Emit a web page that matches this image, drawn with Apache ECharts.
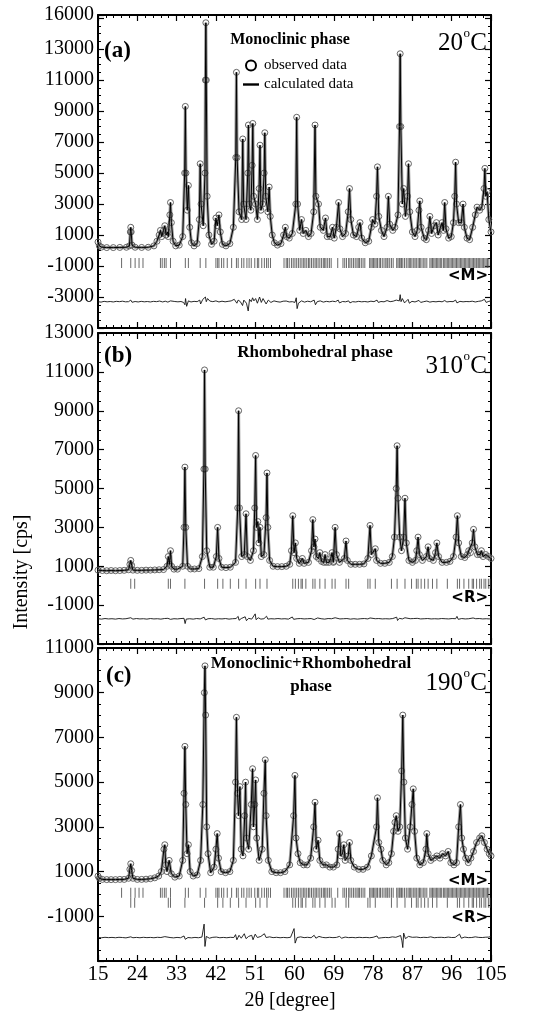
<!DOCTYPE html>
<html><head><meta charset="utf-8">
<script src="https://cdn.jsdelivr.net/npm/echarts@6/dist/echarts.min.js"></script>
<style>html,body{margin:0;padding:0;background:#fff}#c{width:536px;height:1017px}</style>
</head><body><div id="c"></div>
<script>
// ---------- data (2θ in degrees, intensity in cps) ----------
const xTicks = [15, 105, 9]; // min, max, step
const yTicksA = [-3000,-1000,1000,3000,5000,7000,9000,11000,13000];
const topLabelA = '16000';
const yTicksB = [-1000,1000,3000,5000,7000,9000,11000,13000];
const yTicksC = [-1000,1000,3000,5000,7000,9000,11000];

const profileA = [[15.0,550],[15.3,300],[15.8,220],[17,190],[18.5,190],[20,200],[21.5,210],[22.2,300],[22.4,1200],[22.5,1500],[22.6,1200],[22.8,350],[23.5,210],[25,200],[26.5,210],[27.8,300],[28.5,600],[29.0,1000],[29.3,1300],[29.6,900],[30.0,1300],[30.3,1600],[30.6,1000],[30.9,1200],[31.1,900],[31.45,2300],[31.6,3100],[31.8,1800],[32.2,600],[32.8,300],[33.6,350],[34.4,900],[34.85,5000],[35.0,9300],[35.15,5000],[35.45,2600],[35.7,4200],[36.0,1500],[36.4,500],[37.0,300],[37.7,450],[38.2,2000],[38.4,5600],[38.6,3000],[39.1,1600],[39.5,5000],[39.6,11000],[39.7,14700],[39.8,11000],[40.0,3500],[40.4,1000],[41.0,400],[41.6,600],[42.0,2100],[42.3,1600],[42.7,2300],[43.0,1200],[43.5,400],[44.3,300],[45.2,450],[46.0,1500],[46.55,6000],[46.7,11500],[46.85,6000],[47.3,2500],[47.9,2000],[48.15,7200],[48.35,3000],[48.9,2000],[49.3,5000],[49.45,8100],[49.65,3000],[50.0,2600],[50.3,5500],[50.45,8200],[50.65,3500],[51.1,3000],[51.5,2000],[51.9,4000],[52.1,6800],[52.3,2600],[52.7,3000],[53.05,5000],[53.2,7600],[53.4,3500],[53.9,2500],[54.2,4100],[54.45,2200],[54.9,1000],[55.4,500],[56.1,350],[56.9,450],[57.5,1000],[57.9,1500],[58.2,900],[58.8,800],[59.5,1100],[60.3,3000],[60.5,8600],[60.7,3000],[61.2,1300],[61.6,2000],[62.0,1100],[62.6,1300],[63.2,900],[63.8,1100],[64.4,2500],[64.7,8100],[64.9,3500],[65.5,3000],[65.9,1500],[66.6,1300],[67.1,2100],[67.5,900],[68.2,900],[68.7,1500],[69.1,800],[69.6,1500],[70.1,3100],[70.4,1400],[71.0,900],[71.7,1100],[72.3,2500],[72.6,4000],[72.9,2000],[73.5,1000],[74.2,900],[74.7,1500],[75.0,1800],[75.4,800],[76.2,500],[77.0,600],[77.6,1500],[77.9,2000],[78.4,1700],[78.8,3500],[79.0,5400],[79.3,2200],[79.9,1300],[80.5,900],[81.2,1500],[81.5,3500],[81.8,1700],[82.5,1300],[83.0,1500],[83.7,2300],[84.05,8000],[84.2,12700],[84.35,8000],[84.7,3000],[85.0,4000],[85.4,2200],[85.9,3500],[86.1,5600],[86.4,2500],[87.0,1200],[87.6,900],[88.1,1300],[88.5,2600],[88.7,3200],[89.0,1500],[89.7,800],[90.2,700],[90.7,1300],[91.0,2200],[91.4,1100],[92.0,1600],[92.5,1800],[92.9,1000],[93.3,1400],[93.8,1800],[94.1,1300],[94.4,3100],[94.7,1400],[95.3,800],[95.9,900],[96.4,1800],[96.7,3500],[96.9,5700],[97.1,3000],[97.6,1800],[98.2,1800],[98.6,3000],[98.9,1500],[99.5,800],[100.1,700],[100.8,1500],[101.4,2300],[101.8,2800],[102.4,2600],[102.9,2800],[103.4,4000],[103.6,5300],[103.8,3500],[104.1,3800],[104.5,2000],[105.0,1200]];

const diffA = [[15,-3300],[15.7,-3330],[16.4,-3280],[17.1,-3310],[17.8,-3290],[18.5,-3320],[19.2,-3280],[19.9,-3300],[20.6,-3270],[21.3,-3310],[22.0,-3300],[22.5,-3200],[22.8,-3340],[23.5,-3290],[24.2,-3320],[24.9,-3280],[25.6,-3310],[26.3,-3290],[27.0,-3320],[27.7,-3280],[28.4,-3300],[29.1,-3260],[29.8,-3320],[30.4,-3270],[31.0,-3330],[31.6,-3250],[32.0,-3360],[32.6,-3290],[33.3,-3310],[34.0,-3290],[34.6,-3350],[34.9,-3500],[35.05,-3100],[35.3,-3600],[35.7,-3250],[36.3,-3320],[37.0,-3280],[37.7,-3300],[38.3,-3200],[38.5,-3450],[39.0,-3150],[39.6,-3000],[39.8,-3300],[40.1,-3100],[40.6,-3260],[41.3,-3300],[42.0,-3250],[42.7,-3320],[43.4,-3270],[44.1,-3310],[44.8,-3280],[45.5,-3250],[46.2,-3150],[46.6,-3050],[46.8,-3400],[47.1,-3200],[47.6,-3300],[48.1,-3550],[48.4,-3200],[49.0,-3400],[49.4,-3900],[49.7,-3150],[50.1,-3300],[50.4,-3050],[50.7,-3250],[51.1,-3100],[51.5,-3400],[52.0,-3000],[52.4,-3350],[52.8,-3100],[53.2,-3000],[53.5,-3450],[54.0,-3200],[54.6,-3350],[55.3,-3250],[56.0,-3300],[56.7,-3330],[57.4,-3270],[58.1,-3260],[58.8,-3320],[59.5,-3300],[60.1,-3350],[60.4,-3050],[60.6,-3750],[60.9,-3400],[61.6,-3250],[62.3,-3330],[63.0,-3270],[63.7,-3310],[64.5,-3200],[64.8,-3500],[65.2,-3300],[65.9,-3250],[66.6,-3330],[67.3,-3280],[68.0,-3310],[68.7,-3270],[69.4,-3300],[70.0,-3200],[70.3,-3380],[71.0,-3290],[71.7,-3310],[72.4,-3250],[72.7,-3380],[73.3,-3300],[74.0,-3320],[74.7,-3280],[75.4,-3310],[76.1,-3290],[76.8,-3320],[77.5,-3270],[78.2,-3300],[78.9,-3200],[79.2,-3350],[79.8,-3290],[80.5,-3310],[81.2,-3230],[81.9,-3300],[82.6,-3270],[83.3,-3200],[84.0,-3250],[84.2,-2850],[84.4,-3300],[84.7,-3100],[85.2,-3380],[86.0,-3150],[86.3,-3400],[86.9,-3280],[87.6,-3320],[88.5,-3220],[88.9,-3350],[89.6,-3300],[90.3,-3260],[91.0,-3330],[91.7,-3290],[92.4,-3310],[93.1,-3280],[93.8,-3310],[94.4,-3230],[94.9,-3320],[95.6,-3290],[96.3,-3300],[96.9,-3200],[97.2,-3380],[97.9,-3280],[98.6,-3310],[99.3,-3290],[100.0,-3300],[100.7,-3270],[101.4,-3320],[102.1,-3280],[102.8,-3250],[103.5,-3150],[103.9,-3350],[104.5,-3280],[105,-3250]];

const profileB = [[15,800],[16,780],[17,770],[18,780],[19,770],[20,780],[21,790],[22.0,820],[22.3,1100],[22.5,1300],[22.7,1050],[23.0,800],[24,790],[25,790],[26,800],[27,800],[28,810],[29,820],[30,830],[30.8,1000],[31.1,1500],[31.35,1100],[31.6,1800],[31.85,1000],[32.4,850],[33.2,850],[34.4,1000],[34.7,3000],[34.9,6100],[35.1,3000],[35.5,1000],[36.2,860],[37.1,860],[38.1,880],[38.9,1500],[39.25,6000],[39.4,11100],[39.55,6000],[39.9,1800],[40.6,950],[41.4,950],[42.1,1500],[42.4,3000],[42.7,1400],[43.3,950],[44.3,930],[45.3,950],[46.5,1200],[47.0,4000],[47.2,9000],[47.4,4000],[47.9,1500],[48.5,1600],[48.9,3700],[49.2,1500],[49.9,1300],[50.6,1800],[50.9,4000],[51.1,6700],[51.3,3000],[51.6,3300],[51.85,2200],[52.1,3000],[52.4,1500],[53.0,1600],[53.5,3500],[53.7,5800],[53.9,3000],[54.3,1300],[55.1,1000],[56.1,980],[57.1,980],[58.1,1000],[58.9,1100],[59.3,1800],[59.6,3600],[59.9,1700],[60.2,2200],[60.5,1400],[61.1,1150],[61.5,1250],[61.8,1400],[62.2,1150],[63.2,1200],[63.9,1800],[64.2,3400],[64.45,2000],[64.7,2400],[65.0,1500],[65.5,1400],[65.8,1700],[66.2,1250],[66.7,1200],[67.0,1600],[67.3,1200],[67.9,1200],[68.3,1400],[68.6,1700],[68.9,1200],[69.0,1250],[69.3,3000],[69.6,1600],[70.3,1200],[71.4,1400],[71.8,2300],[72.1,1300],[72.9,1100],[73.9,1100],[74.9,1100],[75.9,1120],[76.8,1400],[77.3,3100],[77.6,1600],[78.5,1900],[78.8,1300],[79.7,1150],[80.7,1150],[81.7,1200],[82.4,1500],[82.9,2500],[83.3,5000],[83.5,7200],[83.7,4500],[84.1,2500],[84.5,1800],[85.0,2500],[85.3,4500],[85.6,2200],[86.2,1300],[87.0,1200],[87.7,1300],[88.0,1800],[88.3,2500],[88.6,1600],[89.3,1300],[90.2,1500],[90.6,2000],[90.9,1400],[91.8,1300],[92.3,1700],[92.6,2200],[93.0,1500],[93.8,1200],[94.8,1200],[95.6,1250],[96.4,1500],[97.0,2500],[97.3,3600],[97.6,2200],[98.2,1500],[99.0,1450],[99.6,1600],[99.9,1800],[100.3,1700],[100.7,2200],[101.0,2900],[101.3,2000],[101.9,1600],[102.5,1600],[102.8,1800],[103.2,1500],[103.8,1600],[104.4,1500],[105,1400]];

const diffB = [[15,-1700],[15.8,-1720],[16.6,-1690],[17.4,-1710],[18.2,-1700],[19.0,-1720],[19.8,-1690],[20.6,-1710],[21.4,-1700],[22.5,-1650],[23.0,-1720],[23.8,-1690],[24.6,-1710],[25.4,-1700],[26.2,-1720],[27.0,-1690],[27.8,-1710],[28.6,-1700],[29.4,-1720],[30.2,-1690],[31.0,-1680],[31.6,-1730],[32.4,-1700],[33.2,-1710],[34.0,-1690],[34.7,-1680],[34.95,-1950],[35.2,-1720],[36.0,-1700],[36.8,-1720],[37.6,-1690],[38.4,-1710],[39.3,-1620],[39.6,-1760],[40.2,-1700],[41.0,-1690],[41.8,-1720],[42.6,-1700],[43.4,-1710],[44.2,-1690],[45.0,-1720],[45.8,-1700],[46.6,-1690],[47.1,-1580],[47.3,-1780],[47.8,-1690],[48.7,-1600],[49.0,-1800],[49.5,-1680],[50.2,-1720],[51.0,-1450],[51.2,-1750],[51.7,-1650],[52.3,-1720],[53.0,-1700],[53.6,-1570],[53.9,-1720],[54.6,-1700],[55.4,-1710],[56.2,-1690],[57.0,-1710],[57.8,-1700],[58.6,-1720],[59.5,-1610],[59.8,-1730],[60.6,-1700],[61.4,-1690],[62.2,-1710],[63.0,-1700],[63.8,-1690],[64.2,-1600],[64.5,-1740],[65.3,-1660],[66.1,-1700],[66.9,-1720],[67.7,-1690],[68.5,-1700],[69.3,-1650],[69.6,-1740],[70.4,-1710],[71.2,-1700],[72.0,-1690],[72.8,-1720],[73.6,-1700],[74.4,-1720],[75.2,-1700],[76.0,-1690],[76.8,-1710],[77.3,-1660],[77.7,-1730],[78.5,-1700],[79.3,-1690],[80.1,-1710],[80.9,-1700],[81.7,-1710],[82.5,-1690],[83.4,-1620],[83.6,-1790],[84.0,-1680],[84.7,-1710],[85.3,-1650],[85.7,-1730],[86.5,-1700],[87.3,-1690],[88.1,-1680],[88.9,-1710],[89.7,-1700],[90.5,-1690],[91.3,-1710],[92.1,-1700],[92.9,-1710],[93.7,-1690],[94.5,-1700],[95.3,-1710],[96.1,-1690],[96.9,-1700],[97.2,-1580],[97.5,-1730],[98.3,-1690],[99.1,-1710],[99.9,-1700],[100.9,-1660],[101.5,-1700],[102.3,-1690],[103.1,-1710],[103.9,-1700],[104.6,-1710],[105,-1690]];

const profileC = [[15,800],[15.3,700],[16,650],[17,640],[18,640],[19,640],[20,650],[21,650],[22.0,700],[22.3,1100],[22.5,1350],[22.7,1050],[23.0,700],[24,650],[25,650],[26,660],[27,680],[28,720],[28.9,800],[29.5,1000],[30.1,2000],[30.3,2200],[30.5,1300],[30.8,1000],[31.3,1500],[31.8,900],[32.6,750],[33.6,800],[34.4,1500],[34.7,4500],[34.9,6600],[35.1,4000],[35.4,1800],[35.7,2200],[36.1,1000],[36.8,800],[37.7,850],[38.5,1500],[39.0,4000],[39.35,9000],[39.5,10200],[39.65,8000],[39.9,3000],[40.2,1800],[40.8,950],[41.6,1200],[42.0,2000],[42.3,2700],[42.6,1600],[43.2,1000],[44.2,950],[45.2,1000],[46.0,1500],[46.5,5000],[46.7,7900],[46.95,4500],[47.2,3500],[47.5,4800],[47.8,2000],[48.2,1700],[48.6,3500],[48.8,5000],[49.0,2500],[49.5,2000],[50.1,4000],[50.4,5600],[50.6,3000],[50.9,4000],[51.1,5100],[51.35,2500],[51.9,1500],[52.6,2000],[53.0,4500],[53.3,6000],[53.5,3500],[54.0,1500],[54.8,1000],[55.8,950],[56.8,950],[57.8,1000],[58.9,1300],[59.8,3500],[60.1,5300],[60.35,2500],[60.8,1800],[61.3,1400],[62.1,1300],[62.9,1300],[63.7,1600],[64.4,3000],[64.7,4100],[65.0,2000],[65.4,2400],[65.8,1500],[66.5,1300],[67.3,1300],[68.1,1200],[68.9,1200],[69.7,1300],[70.0,2000],[70.3,2700],[70.6,1700],[71.0,1800],[71.3,2200],[71.6,1500],[72.3,1700],[72.6,2300],[72.9,1500],[73.7,1200],[74.7,1100],[75.7,1100],[76.7,1200],[77.6,1700],[78.8,3000],[79.0,4300],[79.3,2300],[79.8,2000],[80.2,1500],[81.0,1300],[81.6,1400],[82.2,1800],[82.7,2800],[83.0,3200],[83.3,3500],[83.7,2800],[84.1,3000],[84.55,5500],[84.8,8000],[85.05,5000],[85.4,2500],[85.9,2000],[86.5,3000],[86.9,4000],[87.2,4700],[87.5,2800],[88.0,1600],[88.7,1300],[89.5,1400],[90.1,2000],[90.3,2700],[90.6,1800],[91.2,1500],[91.9,1600],[92.6,1700],[93.3,1600],[93.9,1800],[94.6,1700],[95.2,1900],[95.8,1400],[96.5,1300],[97.1,1400],[97.6,3000],[98.0,4000],[98.3,2500],[98.7,2000],[99.2,1600],[99.8,1400],[100.4,1600],[101.0,1900],[101.7,2300],[102.4,2500],[102.9,2600],[103.5,2300],[104.1,2000],[104.6,1800],[105,1700]];

const diffC = [[15,-1950],[15.8,-1960],[16.6,-1940],[17.4,-1955],[18.2,-1945],[19.0,-1960],[19.8,-1940],[20.6,-1950],[21.4,-1965],[22.5,-1920],[23.0,-1960],[23.8,-1945],[24.6,-1960],[25.4,-1940],[26.2,-1955],[27.0,-1945],[27.8,-1960],[28.6,-1940],[29.4,-1950],[30.3,-1910],[30.7,-1990],[31.5,-1950],[32.3,-1965],[33.1,-1945],[33.9,-1960],[34.7,-1880],[35.0,-2030],[35.6,-1950],[36.4,-1965],[37.2,-1945],[38.0,-1960],[38.8,-1930],[39.3,-1350],[39.5,-2350],[39.8,-1900],[40.5,-1980],[41.3,-1940],[42.1,-1930],[42.9,-1960],[43.7,-1945],[44.5,-1960],[45.3,-1940],[46.1,-1950],[46.5,-1820],[46.8,-2050],[47.3,-1850],[47.8,-1980],[48.5,-1780],[48.9,-2000],[49.5,-1900],[50.2,-1850],[50.5,-2050],[51.0,-1800],[51.5,-1950],[52.3,-1900],[53.1,-1780],[53.5,-1950],[54.3,-1920],[55.1,-1955],[55.9,-1940],[56.7,-1960],[57.5,-1945],[58.3,-1960],[59.1,-1940],[59.9,-1550],[60.15,-2200],[60.6,-1950],[61.4,-1920],[62.2,-1955],[63.0,-1940],[63.8,-1960],[64.5,-1850],[64.9,-1980],[65.6,-1900],[66.4,-1945],[67.2,-1960],[68.0,-1940],[68.8,-1955],[69.6,-1945],[70.3,-1900],[70.8,-1980],[71.6,-1930],[72.4,-1955],[73.2,-1945],[74.0,-1960],[74.8,-1940],[75.6,-1955],[76.4,-1945],[77.2,-1960],[78.0,-1940],[78.9,-1880],[79.2,-1980],[80.0,-1960],[80.8,-1945],[81.6,-1955],[82.4,-1920],[83.2,-1940],[84.3,-1860],[84.6,-2100],[84.8,-2400],[85.0,-1750],[85.4,-2000],[86.1,-1900],[87.0,-1940],[87.3,-1980],[88.0,-1930],[88.8,-1955],[89.6,-1940],[90.4,-1950],[91.2,-1920],[92.0,-1960],[92.8,-1945],[93.6,-1940],[94.4,-1955],[95.2,-1930],[96.0,-1950],[96.8,-1945],[97.8,-1800],[98.2,-1980],[99.0,-1930],[99.8,-1955],[100.6,-1950],[101.4,-1920],[102.2,-1945],[103.0,-1950],[103.8,-1935],[104.5,-1930],[105,-1900]];

const monoclinicRefl = [20.4,22.5,23.5,24.4,25.3,29.3,29.7,30.2,30.6,31.6,35.0,35.7,38.4,39.7,42.0,42.4,42.7,43.3,43.8,44.6,45.6,46.7,47.1,47.9,48.4,49.1,49.6,50.1,50.9,51.5,51.8,52.5,53.1,53.6,54.0,54.5,57.6,58.1,58.4,58.8,59.3,59.7,60.1,60.5,60.9,61.3,61.7,62.1,62.4,62.8,63.2,63.5,63.9,64.3,64.7,65.0,65.4,65.8,66.2,66.6,66.9,67.2,67.6,68.0,68.4,69.9,71.1,71.5,71.9,72.4,72.7,73.1,73.5,73.9,74.3,74.6,74.9,75.3,75.7,76.1,77.2,77.5,77.8,78.1,78.4,78.7,79.0,79.4,79.7,80.1,80.5,80.9,81.2,81.4,81.8,82.2,82.6,83.4,83.7,84.0,84.2,84.5,84.8,85.2,85.6,86.0,86.3,86.6,86.9,87.3,87.6,87.9,88.3,88.6,88.8,89.2,89.6,89.9,90.3,91.0,91.3,91.6,91.9,92.2,92.5,92.8,93.1,93.4,93.7,94.1,94.4,94.7,95.0,95.3,95.6,95.9,96.2,96.5,96.8,97.1,97.4,97.7,98.0,98.3,98.6,98.9,99.2,99.5,99.8,100.1,100.4,100.7,101.0,101.3,101.6,101.8,102.1,102.4,102.7,103.0,103.3,103.6,103.9,104.2,104.5];
const rhombohedralRefl = [22.5,23.4,31.1,31.6,34.9,39.4,42.4,43.6,45.3,47.2,48.9,51.1,52.1,53.7,59.6,60.2,60.9,61.5,61.8,62.6,64.2,64.7,65.8,67.0,68.6,69.3,71.8,72.4,76.8,77.3,78.5,82.2,83.5,85.3,86.8,87.9,88.3,89.0,89.8,90.6,91.6,92.6,95.0,97.3,97.8,98.8,99.9,100.7,101.0,101.7,102.4,102.8,103.4,103.8,104.4,104.8];
// intensity level of each reflection-marker row
const reflRowA = -800, reflRowB = 100, reflRowCM = 50, reflRowCR = -400;

// ---------- layout ----------
const SERIF = "'Liberation Serif','DejaVu Serif',serif";
const panels = [
  {top:15,  height:313, min:-5000, max:15200, ticks:yTicksA, topLabel:topLabelA, profile:profileA, diff:diffA, rows:[[monoclinicRefl,reflRowA]]},
  {top:333, height:311, min:-3000, max:13000, ticks:yTicksB, topLabel:null, profile:profileB, diff:diffB, rows:[[rhombohedralRefl,reflRowB]]},
  {top:648, height:313, min:-3000, max:11000, ticks:yTicksC, topLabel:null, profile:profileC, diff:diffC, rows:[[monoclinicRefl,reflRowCM],[rhombohedralRefl,reflRowCR]]}
];

const grid=[], xAxis=[], yAxis=[], series=[];
panels.forEach((p,i)=>{
  grid.push({left:98, right:45, top:p.top, height:p.height, containLabel:false});
  ['bottom','top'].forEach(pos=>{
    const lab = (i===2 && pos==='bottom');
    xAxis.push({type:'value', gridIndex:i, position:pos, min:xTicks[0], max:xTicks[1], interval:xTicks[2],
      axisLine:{show:true,onZero:false,lineStyle:{color:'#000',width:2}},
      axisTick:{show:true,inside:true,length:6,lineStyle:{color:'#000',width:1.2}},
      minorTick:{show:true,splitNumber:5,length:3,lineStyle:{color:'#000',width:1}},
      axisLabel:{show:lab,fontFamily:SERIF,fontSize:21,color:'#000',margin:3},
      splitLine:{show:false}, minorSplitLine:{show:false}});
  });
  ['left','right'].forEach(pos=>{
    yAxis.push({type:'value', gridIndex:i, position:pos, min:p.min, max:p.max, interval:2000,
      axisLine:{show:true,onZero:false,lineStyle:{color:'#000',width:2}},
      axisTick:{show:true,inside:true,length:6,lineStyle:{color:'#000',width:1.2}},
      minorTick:{show:true,splitNumber:4,length:3,lineStyle:{color:'#000',width:1}},
      axisLabel:{show:pos==='left',fontFamily:SERIF,fontSize:20,color:'#000',margin:4,
        showMinLabel:false, showMaxLabel:true,
        formatter:(v)=>{ if(p.ticks.indexOf(v)>=0) return String(v); if(v===p.max && p.topLabel) return p.topLabel; return ''; }},
      splitLine:{show:false}, minorSplitLine:{show:false}});
  });
  const xi=2*i, yi=2*i;
  series.push({name:'observed data', type:'line', xAxisIndex:xi, yAxisIndex:yi, data:p.profile,
    symbol:'circle', symbolSize:6, showAllSymbol:true,
    lineStyle:{color:'#9a9a9a', width:3},
    itemStyle:{color:'rgba(255,255,255,0)', borderColor:'#555', borderWidth:0.9}, z:2, silent:true});
  series.push({name:'calculated data', type:'line', xAxisIndex:xi, yAxisIndex:yi, data:p.profile,
    symbol:'none', lineStyle:{color:'#000', width:1}, itemStyle:{color:'#000'}, z:3, silent:true});
  p.rows.forEach(([refl,row])=>{
    series.push({name:'refl', type:'scatter', xAxisIndex:xi, yAxisIndex:yi, data:refl.map(x=>[x,row]),
      symbol:'rect', symbolSize:[1,10], itemStyle:{color:'#444'}, z:2, silent:true});
  });
  series.push({name:'difference', type:'line', xAxisIndex:xi, yAxisIndex:yi, data:p.diff,
    symbol:'none', lineStyle:{color:'#111', width:0.9}, z:3, silent:true});
});

function txt(x,y,text,font,align,extra){ return Object.assign({type:'text', x:x, y:y, z:10, silent:true,
  style:{text:text, font:font, fill:'#000', align:align||'left', verticalAlign:'middle'}}, extra||{}); }
// temperature label: number + raised small "o" + "C"
function tempText(xRight,y,num){
  return [
    txt(xRight,y,'C','25px '+SERIF,'right'),
    txt(xRight-17,y-9,'o','13px '+SERIF,'right'),
    txt(xRight-24,y,num,'25px '+SERIF,'right')
  ];
}
const MF = "bold 15px 'DejaVu Sans',sans-serif";
const graphic = [
  txt(104,51,'(a)','bold 23px '+SERIF),
  txt(290,40,'Monoclinic phase','bold 16px '+SERIF,'center'),
  ...tempText(487,43,'20'),
  txt(104,356,'(b)','bold 23px '+SERIF),
  txt(315,353,'Rhombohedral phase','bold 17px '+SERIF,'center'),
  ...tempText(487,366,'310'),
  txt(106,676,'(c)','bold 23px '+SERIF),
  txt(311,664,'Monoclinic+Rhombohedral','bold 17px '+SERIF,'center'),
  txt(311,687,'phase','bold 17px '+SERIF,'center'),
  ...tempText(487,683,'190'),
  txt(488,276,'<M>',MF,'right'),
  txt(488,598,'<R>',MF,'right'),
  txt(488,881,'<M>',MF,'right'),
  txt(488,918,'<R>',MF,'right'),
  txt(22,572,'Intensity [cps]','20px '+SERIF,'center',{rotation:Math.PI/2}),
  txt(290,1001,'2\u03b8 [degree]','20px '+SERIF,'center')
];

const chart = echarts.init(document.getElementById('c'), null, {renderer:'canvas'});
chart.setOption({
  animation:false, backgroundColor:'#fff',
  grid, xAxis, yAxis, series, graphic,
  legend:{show:true, orient:'vertical', left:238, top:53, itemGap:4, itemWidth:16, itemHeight:10,
    textStyle:{fontFamily:SERIF,fontSize:15,color:'#000'},
    data:[{name:'observed data', icon:'circle', itemStyle:{color:'#fff',borderColor:'#000',borderWidth:2}},
          {name:'calculated data', icon:'path://M0,0H20V3H0Z', itemStyle:{color:'#000',borderWidth:0}}]}
});
</script></body></html>
